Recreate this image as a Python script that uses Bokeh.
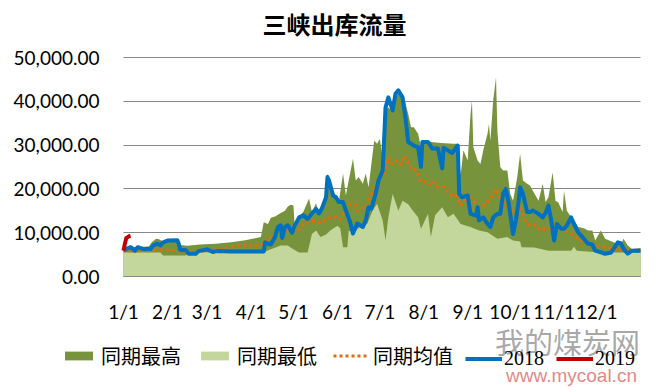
from bokeh.plotting import figure
from bokeh.models import Range1d, FixedTicker, NumeralTickFormatter, Legend, LegendItem, Label
from bokeh.embed import file_html
from bokeh.resources import INLINE

# ---- data (day of year, value) ----
month_labels = ["1/1", "2/1", "3/1", "4/1", "5/1", "6/1", "7/1", "8/1", "9/1", "10/1", "11/1", "12/1"]
month_days = [0, 31, 59, 90, 120, 151, 181, 212, 243, 273, 304, 334]
y_ticks = [0, 10000, 20000, 30000, 40000, 50000]

max_days = [0, 5, 12, 18, 20, 23, 25, 28, 31, 38, 40, 45, 54, 65, 76, 86, 97, 99, 102, 104, 107, 111, 114,
            116, 118, 120, 121, 124, 127, 131, 133, 136, 138, 140, 143, 144, 148, 152, 155, 157, 159, 162,
            164, 166, 169, 171, 173, 177, 179, 181, 183, 184, 187, 189, 191, 194, 198, 201, 203, 205, 208,
            210, 213, 217, 224, 233, 236, 238, 240, 243, 245, 246, 247, 250, 252, 254, 257, 258, 259, 261,
            263, 264, 266, 268, 271, 273, 275, 278, 280, 282, 285, 287, 289, 293, 296, 298, 300, 303, 305,
            307, 310, 311, 313, 316, 318, 321, 325, 328, 331, 333, 337, 340, 343, 346, 351, 353, 356, 359, 365]
max_vals = [6300, 6800, 6700, 6900, 7800, 8600, 8500, 8000, 8400, 8500, 7200, 7000, 7300, 7500, 7800, 8300,
            9000, 12400, 12000, 13400, 13700, 14500, 15000, 16000, 16400, 16200, 10500, 13500, 14800, 17800,
            14800, 16700, 14000, 15500, 18000, 23500, 19500, 17000, 23500, 18500, 21900, 26900, 21900, 22700,
            21200, 23500, 20400, 31000, 30300, 31400, 27000, 38600, 38600, 38000, 40900, 41700, 40900, 37100,
            34100, 34100, 32600, 29500, 31000, 30700, 30500, 30300, 30300, 23100, 28800, 26500, 37100, 40200,
            29500, 26500, 25700, 28800, 32600, 34800, 31000, 40200, 45500, 33000, 25000, 24200, 24200, 18900,
            17300, 22700, 28000, 21900, 21200, 20800, 19600, 17300, 21200, 17000, 18100, 23800, 17300, 16900,
            14700, 19600, 15000, 13500, 13000, 11300, 11000, 10500, 10500, 8200, 10500, 8600, 8200, 7800,
            7100, 8600, 7100, 6300, 6500]

min_days = [0, 26, 28, 44, 46, 76, 99, 100, 111, 116, 119, 124, 130, 133, 136, 139, 143, 146, 151, 153, 155,
            158, 159, 162, 167, 172, 176, 179, 183, 185, 187, 190, 192, 194, 197, 201, 204, 208, 210, 215,
            217, 220, 225, 229, 233, 238, 245, 251, 257, 264, 271, 275, 280, 281, 290, 300, 316, 318, 320,
            337, 365]
min_vals = [5500, 5500, 4800, 4800, 5500, 5600, 5500, 5700, 7100, 7100, 6400, 5500, 5500, 9700, 10500, 9000,
            9600, 10500, 11600, 11000, 6700, 6700, 10500, 10000, 11300, 12000, 15100, 16600, 12800, 8200,
            13500, 18900, 17000, 15000, 17300, 16500, 15100, 13500, 10900, 14300, 9000, 14000, 15800, 13500,
            14300, 12000, 11300, 10500, 10100, 8600, 9000, 8200, 8000, 6700, 6600, 5900, 5900, 6800, 5900,
            5500, 5500]

mean_days = [0, 12, 26, 40, 54, 68, 79, 90, 97, 102, 112, 123, 127, 132, 140, 144, 150, 153, 155, 160, 164,
             165, 167, 171, 177, 180, 184, 186, 187, 190, 193, 196, 198, 201, 203, 205, 208, 210, 213, 217,
             219, 222, 226, 229, 232, 234, 238, 241, 245, 247, 251, 256, 259, 261, 263, 266, 270, 273, 278,
             280, 284, 287, 291, 294, 299, 306, 311, 317, 321, 325, 332, 337, 342, 349, 356, 365]
mean_vals = [5900, 5900, 6100, 5800, 5800, 6100, 7100, 7100, 7000, 8600, 10500, 10500, 11800, 12800, 12200,
             13400, 13500, 13000, 14300, 16600, 16300, 15000, 15500, 15800, 20400, 21900, 23800, 25300, 27100,
             25500, 26500, 25500, 27600, 26000, 24600, 24800, 23100, 21500, 21700, 20800, 21600, 20400, 20500,
             19300, 18500, 18800, 16200, 17300, 18100, 17200, 15800, 16600, 17700, 18900, 20000, 17800, 16500,
             15500, 13900, 15800, 12400, 11600, 11800, 10600, 10800, 11300, 10500, 9600, 8400, 8000, 6800,
             7000, 6500, 6200, 5900, 6000]

y2018_days = [0, 2, 5, 8, 10, 14, 19, 21, 24, 26, 28, 31, 38, 39, 40, 44, 46, 51, 53, 59, 63, 66, 76, 99, 100,
              104, 107, 109, 111, 112, 114, 116, 119, 121, 124, 127, 130, 133, 136, 138, 140, 143, 144, 145,
              148, 150, 152, 155, 157, 160, 162, 165, 169, 171, 173, 175, 178, 180, 183, 185, 187, 190, 192,
              194, 197, 199, 201, 205, 208, 210, 211, 215, 218, 222, 225, 226, 229, 232, 236, 237, 239, 243,
              245, 249, 250, 251, 254, 257, 259, 261, 264, 266, 268, 270, 272, 275, 277, 279, 280, 282, 285,
              287, 289, 293, 296, 298, 300, 302, 304, 306, 309, 311, 313, 316, 318, 321, 324, 326, 328, 331,
              333, 337, 340, 344, 346, 349, 351, 353, 356, 359, 365]
y2018_vals = [5900, 6300, 6700, 5900, 6700, 6300, 6300, 7100, 7500, 7100, 7800, 8200, 8300, 7500, 6100, 6000,
              5200, 5200, 5800, 6200, 5600, 5800, 5700, 5700, 7800, 7300, 9000, 11300, 11700, 8800, 11300,
              11700, 10000, 11700, 13500, 14000, 13100, 14400, 15400, 14400, 15500, 18100, 22700, 22000, 18500,
              18100, 17000, 17000, 15100, 12400, 9800, 12100, 11300, 12800, 15800, 15500, 18900, 21900, 24200,
              38600, 40900, 37900, 41700, 42500, 40900, 36400, 30700, 29900, 29500, 25000, 30700, 30700, 29200,
              29200, 24700, 29400, 28800, 28200, 29900, 18900, 18100, 18500, 14300, 13900, 15800, 12800, 13500,
              12000, 11300, 13500, 14300, 14300, 18900, 20000, 16600, 9700, 12800, 17300, 20400, 18900, 14700,
              14700, 15100, 14300, 13500, 14500, 16200, 12800, 8200, 12000, 10900, 10900, 11600, 13500, 12000,
              10100, 9000, 8200, 7500, 7300, 5900, 5500, 5200, 5400, 6300, 7800, 7600, 6300, 5200, 5900, 5900]

y2019_days = [0, 1, 2, 3, 4, 5]
y2019_vals = [5900, 7500, 8800, 9000, 9200, 9300]

# ---- layout constants (pixels) ----
W, H = 668, 387
PX_L, PX_R = 123, 640        # plot area left / right
PY_0, PY_TOP = 276, 57       # y=0 and y=50000
kx = 365 / (PX_R - PX_L)
ky = 50000 / (PY_0 - PY_TOP)

p = figure(width=W, height=H, output_backend="svg", toolbar_location=None, title=None,
           x_range=Range1d(-PX_L * kx, (W - PX_L) * kx),
           y_range=Range1d(-(H - PY_0) * ky, PY_0 * ky),
           min_border=0)
p.outline_line_color = None
p.background_fill_color = "white"
p.border_fill_color = "white"

r_max = p.varea(x=max_days, y1=0, y2=max_vals, fill_color="#77933C")
r_min = p.varea(x=min_days, y1=0, y2=min_vals, fill_color="#C3D69B")
r_mean = p.line(mean_days, mean_vals, line_color="#E46C0A", line_width=3, line_dash="3 3")
r_18 = p.line(y2018_days, y2018_vals, line_color="#0070C0", line_width=4, line_join="round")
r_19 = p.line(y2019_days, y2019_vals, line_color="#C00000", line_width=4, line_join="round")

p.xgrid.visible = False
p.ygrid.ticker = FixedTicker(ticks=y_ticks)
p.ygrid.grid_line_color = "#878787"
p.ygrid.grid_line_width = 1
try:
    p.ygrid.cross_bounds = (0, 365)
except Exception:
    p.ygrid.visible = False
    p.segment(x0=0, x1=365, y0=y_ticks, y1=y_ticks, line_color="#878787", line_width=1, level="underlay")

yax = p.yaxis[0]
yax.fixed_location = 0
yax.bounds = (0, 50000)
yax.ticker = FixedTicker(ticks=y_ticks)
yax.formatter = NumeralTickFormatter(format="0,0.00")
yax.axis_line_color = None
yax.major_tick_line_color = None
yax.minor_tick_line_color = None
yax.major_label_standoff = 18
yax.major_label_text_font = "Lato"
yax.major_label_text_font_size = "19px"
yax.major_label_text_color = "black"

xax = p.xaxis[0]
xax.fixed_location = 0
xax.bounds = (0, 365)
xax.ticker = FixedTicker(ticks=month_days)
xax.major_label_overrides = {d: l for d, l in zip(month_days, month_labels)}
xax.axis_line_color = "#878787"
xax.major_tick_line_color = None
xax.minor_tick_line_color = None
xax.major_label_standoff = 17
xax.major_label_text_font = "Lato"
xax.major_label_text_font_size = "19px"
xax.major_label_text_color = "black"

# title
p.add_layout(Label(x=334, y=H - 23, x_units="screen", y_units="screen", text="三峡出库流量",
                   text_align="center", text_baseline="middle", text_font="Noto Sans CJK SC",
                   text_font_size="24px", text_font_style="bold", text_color="black"))

# watermark
p.add_layout(Label(x=567, y=H - 340, x_units="screen", y_units="screen", text="我的煤炭网",
                   text_align="center", text_baseline="middle", text_font="Noto Sans CJK SC",
                   text_font_size="29px", text_color="#8C8C8C", text_alpha=0.75))
p.add_layout(Label(x=571, y=H - 375, x_units="screen", y_units="screen", text="www.mycoal.cn",
                   text_align="center", text_baseline="alphabetic", text_font="Liberation Sans",
                   text_font_size="19px", text_color="#E06666", text_alpha=0.8))

leg1 = Legend(items=[LegendItem(label="同期最高", renderers=[r_max]),
                     LegendItem(label="同期最低", renderers=[r_min]),
                     LegendItem(label="同期均值", renderers=[r_mean])],
              orientation="horizontal", location=(61, H - 370), glyph_width=35, glyph_height=11,
              label_standoff=5, spacing=16, padding=0, margin=0, border_line_color=None,
              background_fill_alpha=0, label_text_font="Noto Sans CJK SC", label_text_font_size="20px",
              label_height=20, label_text_baseline="middle", label_text_color="black")
leg2 = Legend(items=[LegendItem(label="2018", renderers=[r_18]),
                     LegendItem(label="2019", renderers=[r_19])],
              orientation="horizontal", location=(465, H - 370), glyph_width=37, glyph_height=11,
              label_standoff=2, spacing=12, padding=0, margin=0, border_line_color=None,
              background_fill_alpha=0, label_text_font="Liberation Serif", label_text_font_size="20px",
              label_height=20, label_text_baseline="middle", label_text_color="black")
p.add_layout(leg1)
p.add_layout(leg2)

open("out.html", "w").write(file_html(p, INLINE))
